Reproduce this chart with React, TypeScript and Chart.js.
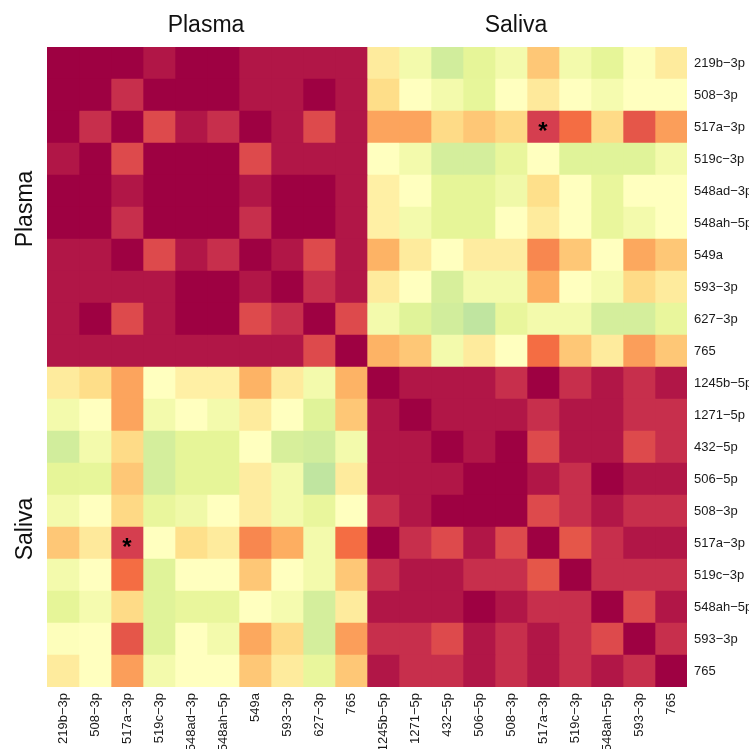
import { useEffect, useRef } from "react";
import { Chart, registerables } from "chart.js";

Chart.register(...registerables);

// ---------- data ----------
const plasmaLabels = ["219b−3p", "508−3p", "517a−3p", "519c−3p", "548ad−3p", "548ah−5p", "549a", "593−3p", "627−3p", "765"];
const salivaLabels = ["1245b−5p", "1271−5p", "432−5p", "506−5p", "508−3p", "517a−3p", "519c−3p", "548ah−5p", "593−3p", "765"];
const groupTitles = ["Plasma", "Saliva"];

// correlation, plasma vs plasma
const plasmaPlasma = [
  [1, 1, 1, 0.93, 1, 1, 0.93, 0.93, 0.93, 0.93],
  [1, 1, 0.85, 1, 1, 1, 0.93, 0.93, 1, 0.93],
  [1, 0.85, 1, 0.75, 0.93, 0.85, 1, 0.93, 0.75, 0.93],
  [0.93, 1, 0.75, 1, 1, 1, 0.75, 0.93, 0.93, 0.93],
  [1, 1, 0.93, 1, 1, 1, 0.93, 1, 1, 0.93],
  [1, 1, 0.85, 1, 1, 1, 0.85, 1, 1, 0.93],
  [0.93, 0.93, 1, 0.75, 0.93, 0.85, 1, 0.93, 0.75, 0.93],
  [0.93, 0.93, 0.93, 0.93, 1, 1, 0.93, 1, 0.85, 0.93],
  [0.93, 1, 0.75, 0.93, 1, 1, 0.75, 0.85, 1, 0.75],
  [0.93, 0.93, 0.93, 0.93, 0.93, 0.93, 0.93, 0.93, 0.75, 1],
];

// correlation, plasma (rows) vs saliva (columns)
const plasmaSaliva = [
  [0.13, -0.1, -0.27, -0.2, -0.1, 0.3, -0.1, -0.2, -0.02, 0.13],
  [0.21, 0.0, -0.1, -0.19, 0.0, 0.14, 0.0, -0.08, 0.0, 0.0],
  [0.43, 0.43, 0.22, 0.3, 0.23, 0.8, 0.6, 0.22, 0.7, 0.45],
  [0.0, -0.1, -0.26, -0.26, -0.18, 0.0, -0.22, -0.22, -0.22, -0.1],
  [0.1, 0.0, -0.2, -0.2, -0.12, 0.2, 0.0, -0.18, 0.0, 0.0],
  [0.1, -0.1, -0.2, -0.2, 0.0, 0.13, 0.0, -0.18, -0.1, 0.0],
  [0.38, 0.13, 0.0, 0.12, 0.12, 0.52, 0.3, 0.0, 0.42, 0.3],
  [0.13, 0.0, -0.25, -0.1, -0.1, 0.4, 0.0, -0.08, 0.22, 0.13],
  [-0.1, -0.22, -0.27, -0.33, -0.18, -0.1, -0.1, -0.26, -0.26, -0.18],
  [0.38, 0.3, -0.1, 0.13, 0.0, 0.6, 0.3, 0.13, 0.45, 0.3],
];

// correlation, saliva vs saliva
const salivaSaliva = [
  [1, 0.93, 0.93, 0.93, 0.85, 1, 0.85, 0.93, 0.85, 0.93],
  [0.93, 1, 0.93, 0.93, 0.93, 0.85, 0.93, 0.93, 0.85, 0.85],
  [0.93, 0.93, 1, 0.93, 1, 0.75, 0.93, 0.93, 0.75, 0.85],
  [0.93, 0.93, 0.93, 1, 1, 0.93, 0.85, 1, 0.93, 0.93],
  [0.85, 0.93, 1, 1, 1, 0.75, 0.85, 0.93, 0.85, 0.85],
  [1, 0.85, 0.75, 0.93, 0.75, 1, 0.7, 0.85, 0.93, 0.93],
  [0.85, 0.93, 0.93, 0.85, 0.85, 0.7, 1, 0.85, 0.85, 0.85],
  [0.93, 0.93, 0.93, 1, 0.93, 0.85, 0.85, 1, 0.75, 0.93],
  [0.85, 0.85, 0.75, 0.93, 0.85, 0.93, 0.85, 0.75, 1, 0.85],
  [0.93, 0.85, 0.85, 0.93, 0.85, 0.93, 0.85, 0.93, 0.85, 1],
];

// significant cells [row, col]
const marked = [
  [2, 15],
  [15, 2],
];

// ---------- derived ----------
const rowLabels = [...plasmaLabels, ...salivaLabels];
const colLabels = [...plasmaLabels, ...salivaLabels];
const n = rowLabels.length;
const half = plasmaLabels.length;

function corrAt(i: number, j: number): number {
  if (i < half && j < half) return plasmaPlasma[i][j];
  if (i < half) return plasmaSaliva[i][j - half];
  if (j < half) return plasmaSaliva[j][i - half];
  return salivaSaliva[i - half][j - half];
}

const spectral: [number, string][] = [
  [-1, "#5E4FA2"], [-0.8, "#3288BD"], [-0.6, "#66C2A5"], [-0.4, "#ABDDA4"],
  [-0.2, "#E6F598"], [0, "#FFFFBF"], [0.2, "#FEE08B"], [0.4, "#FDAE61"],
  [0.6, "#F46D43"], [0.8, "#D53E4F"], [1, "#9E0142"],
];
function hexRgb(h: string) {
  return [parseInt(h.slice(1, 3), 16), parseInt(h.slice(3, 5), 16), parseInt(h.slice(5, 7), 16)];
}
function colorFor(v: number): string {
  const c = Math.max(-1, Math.min(1, v));
  for (let k = 0; k < spectral.length - 1; k++) {
    const [v0, c0] = spectral[k];
    const [v1, c1] = spectral[k + 1];
    if (c >= v0 && c <= v1) {
      const t = (c - v0) / (v1 - v0);
      const a = hexRgb(c0), b = hexRgb(c1);
      const m = a.map((x, q) => Math.round(x + (b[q] - x) * t));
      return `rgb(${m[0]},${m[1]},${m[2]})`;
    }
  }
  return spectral[spectral.length - 1][1];
}

const FONT = '"Liberation Sans", Arial, Helvetica, sans-serif';

const annotatePlugin = {
  id: "annotate",
  afterDraw(chart: any) {
    const { ctx } = chart;
    const x = chart.scales.x;
    const y = chart.scales.y;
    ctx.save();
    ctx.fillStyle = "#111111";
    ctx.font = `23px ${FONT}`;
    ctx.textAlign = "center";
    ctx.textBaseline = "alphabetic";
    const topShift = [-1, -11];
    groupTitles.forEach((t, g) => {
      const cx = (x.getPixelForValue(g * half) + x.getPixelForValue(g * half + half)) / 2;
      ctx.fillText(t, cx + topShift[g], 32);
      const cy = (y.getPixelForValue(g * half) + y.getPixelForValue(g * half + half - 1)) / 2;
      ctx.save();
      ctx.translate(32, cy + 2);
      ctx.rotate(-Math.PI / 2);
      ctx.fillText(t, 0, 0);
      ctx.restore();
    });
    ctx.font = `bold 24px ${FONT}`;
    ctx.fillStyle = "#000000";
    marked.forEach(([r, c]) => {
      const px = x.getPixelForValue(c + 0.5);
      const py = y.getPixelForValue(r);
      ctx.fillText("*", px, py + 12);
    });
    ctx.restore();
  },
};

export default function App() {
  const ref = useRef<HTMLCanvasElement>(null);
  useEffect(() => {
    document.body.style.margin = "0";
    const canvas = ref.current;
    if (!canvas) return;
    Chart.defaults.font.family = FONT;
    const datasets = colLabels.map((lab, j) => ({
      label: lab,
      data: rowLabels.map(() => 1),
      backgroundColor: rowLabels.map((_, i) => colorFor(corrAt(i, j))),
      borderWidth: 0,
      barPercentage: 1,
      categoryPercentage: 1,
    }));
    const chart = new Chart(canvas, {
      type: "bar",
      data: { labels: rowLabels, datasets },
      plugins: [annotatePlugin],
      options: {
        indexAxis: "y",
        animation: false,
        responsive: false,
        devicePixelRatio: 1,
        layout: { padding: { left: 47, top: 47, right: 0, bottom: 0 } },
        plugins: { legend: { display: false }, tooltip: { enabled: false } },
        scales: {
          x: {
            type: "linear",
            stacked: true,
            min: 0,
            max: n,
            position: "bottom",
            grid: { display: false, drawTicks: false },
            border: { display: false },
            afterBuildTicks: (s: any) => {
              s.ticks = colLabels.map((_, j) => ({ value: j + 0.5 }));
            },
            afterFit: (s: any) => {
              s.height = 62;
            },
            ticks: {
              autoSkip: false,
              minRotation: 90,
              maxRotation: 90,
              padding: 6,
              color: "#1a1a1a",
              font: { size: 13, family: FONT },
              callback: (_v: any, i: number) => colLabels[i],
            },
          },
          y: {
            type: "category",
            stacked: true,
            position: "right",
            grid: { display: false, drawTicks: false },
            border: { display: false },
            afterFit: (s: any) => {
              s.width = 62;
            },
            ticks: {
              autoSkip: false,
              padding: 7,
              color: "#1a1a1a",
              font: { size: 13, family: FONT },
            },
          },
        },
      } as any,
    });
    return () => chart.destroy();
  }, []);
  return (
    <div style={{ width: 749, height: 749, background: "#ffffff" }}>
      <canvas ref={ref} width={749} height={749} style={{ display: "block" }} />
    </div>
  );
}
